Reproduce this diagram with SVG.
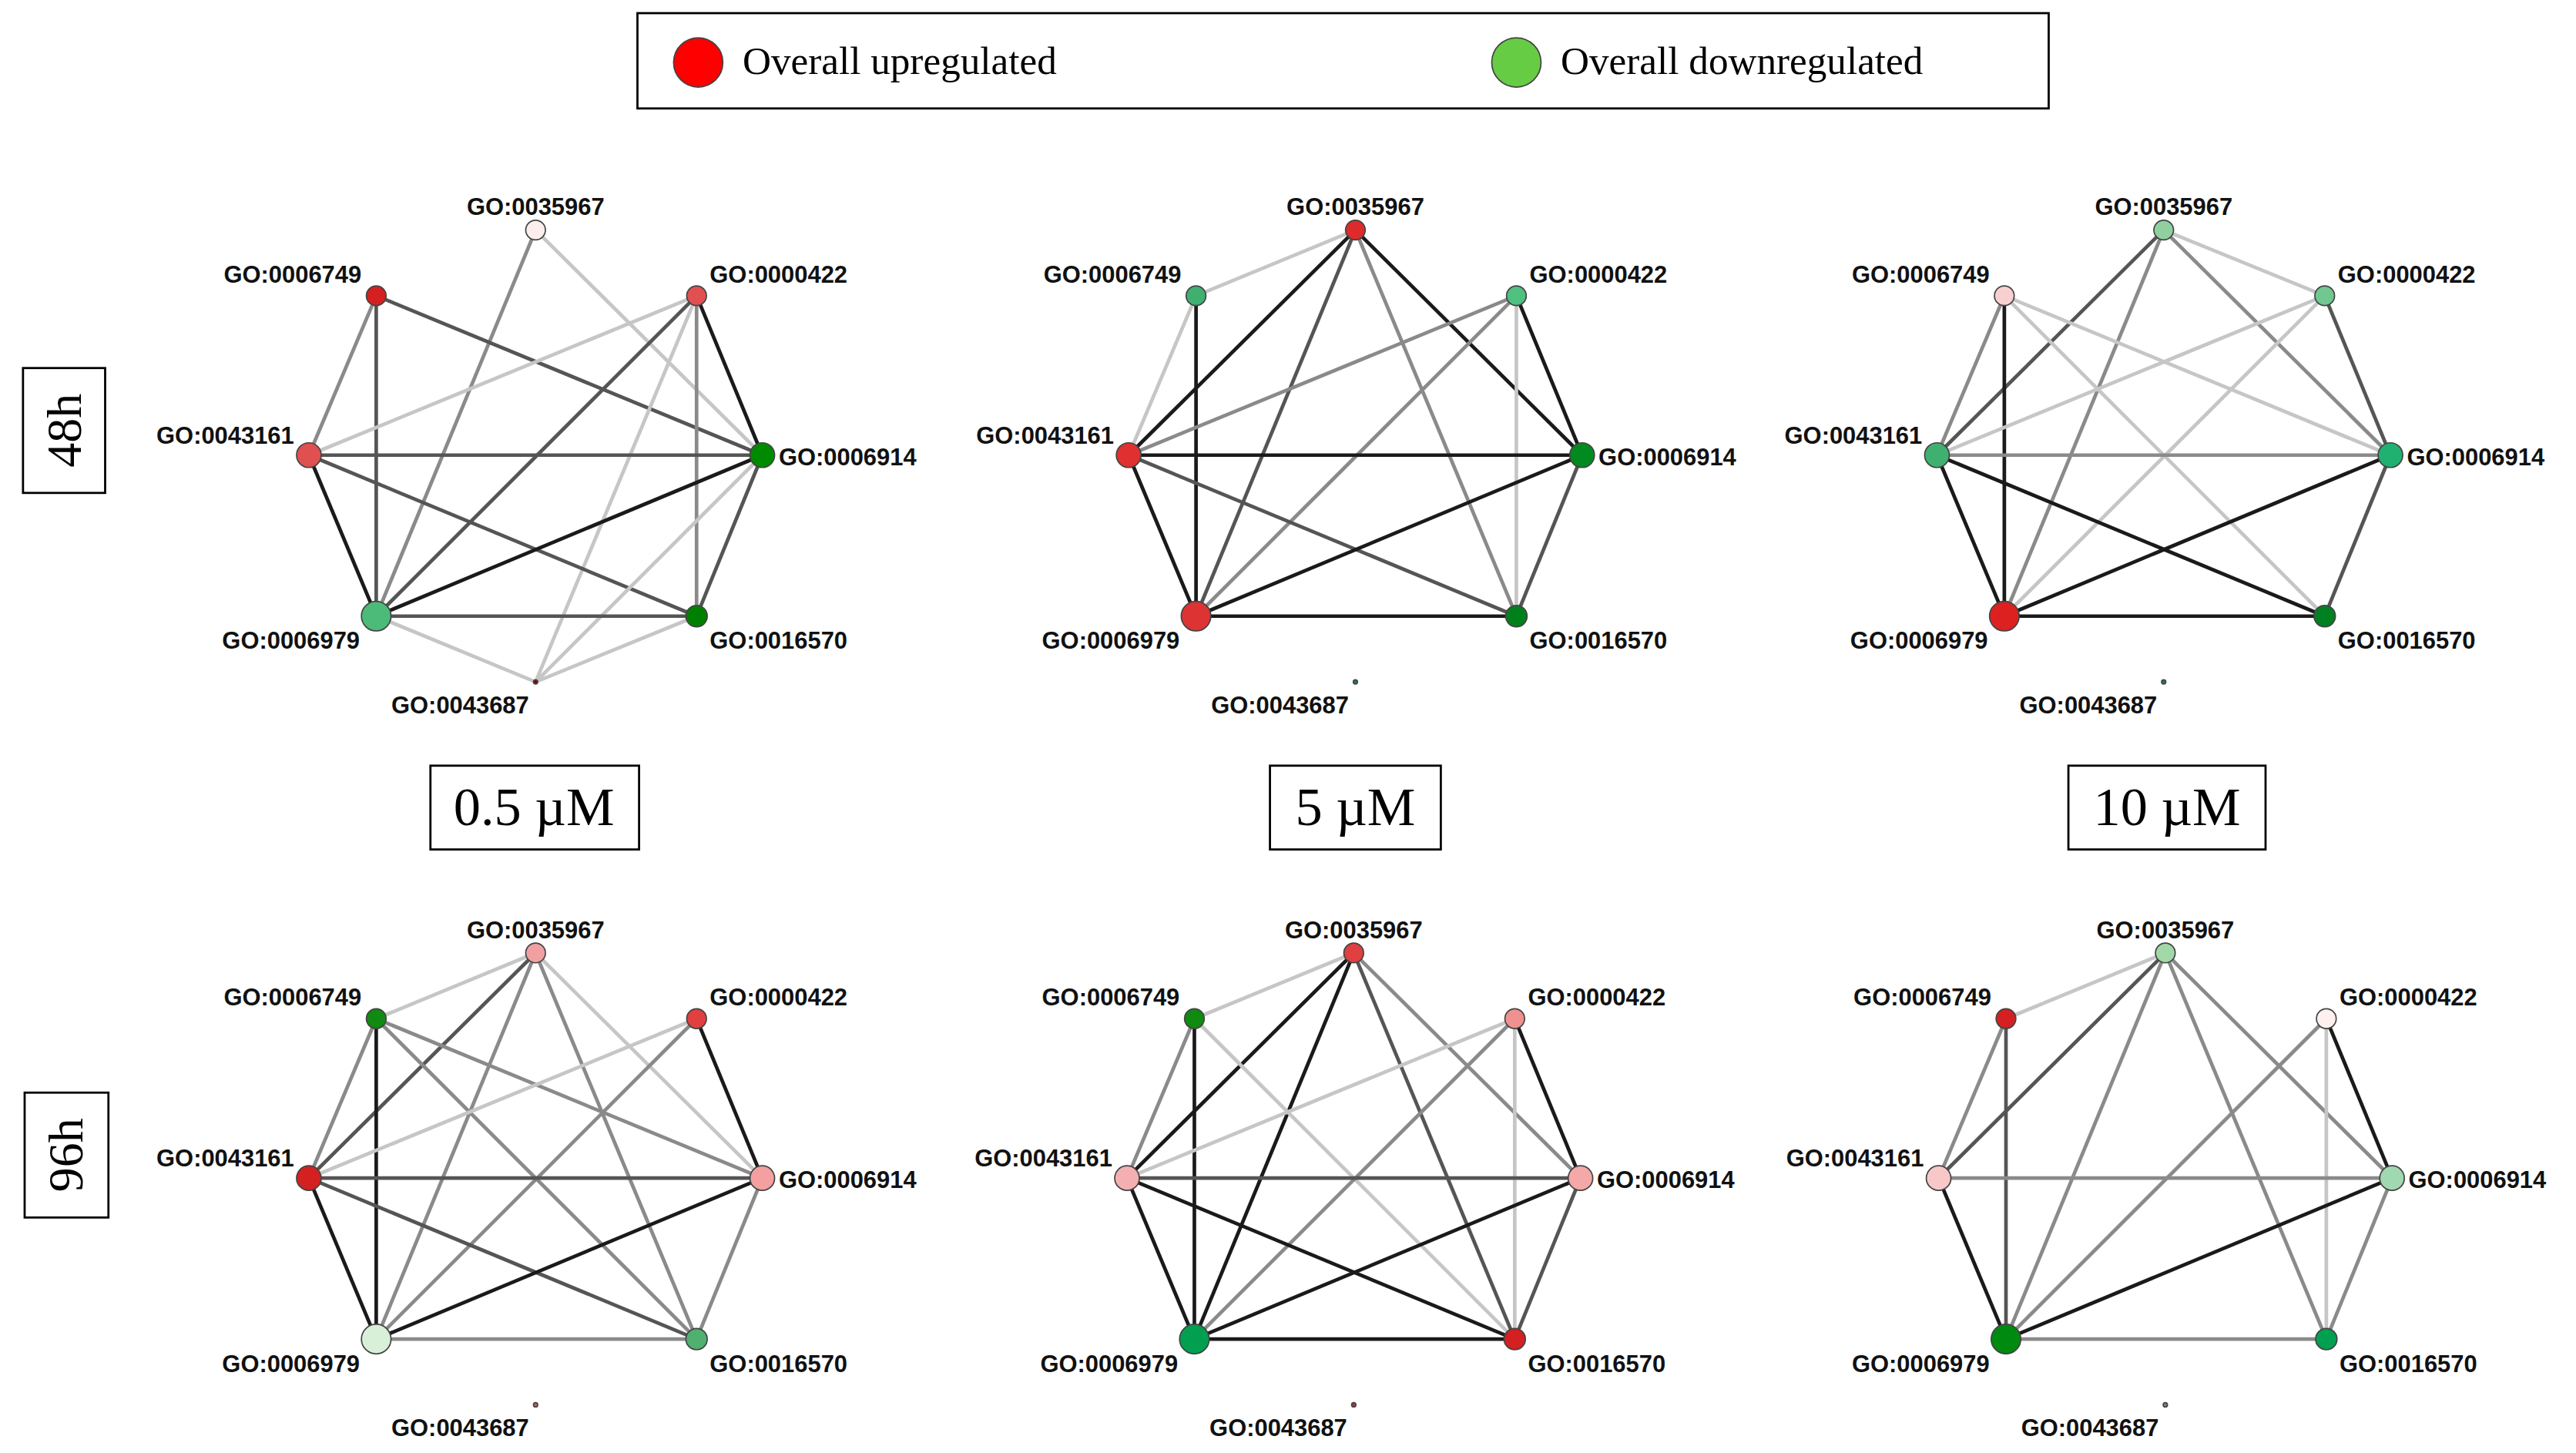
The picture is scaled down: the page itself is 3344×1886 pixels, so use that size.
<svg xmlns="http://www.w3.org/2000/svg" width="3344" height="1886" viewBox="0 0 3344 1886">
<style>
.k{stroke:#1a1a1a}.d{stroke:#555}.g{stroke:#8a8a8a}.l{stroke:#c6c6c6}
line{stroke-width:2.2;fill:none}
circle{stroke:#444;stroke-width:0.8}
.lb{font-family:"Liberation Sans",Arial,sans-serif;font-weight:bold;font-size:14.5px;fill:#111}
.sf{font-family:"Liberation Serif","Times New Roman",serif;fill:#000}
.bx{fill:#fff;stroke:#000;stroke-width:1.3}
</style>
<defs>
<g id="labels">
<text class="lb" x="326" y="131" text-anchor="middle">GO:0035967</text>
<text class="lb" x="220" y="172" text-anchor="end">GO:0006749</text>
<text class="lb" x="432" y="172">GO:0000422</text>
<text class="lb" x="179" y="270" text-anchor="end">GO:0043161</text>
<text class="lb" x="474" y="283">GO:0006914</text>
<text class="lb" x="219" y="395" text-anchor="end">GO:0006979</text>
<text class="lb" x="432" y="395">GO:0016570</text>
<text class="lb" x="322" y="434" text-anchor="end">GO:0043687</text>
</g>
</defs>
<rect width="3344" height="1886" fill="#fff"/>
<g transform="scale(2.1327)">
<g id="legend">
<rect class="bx" x="388" y="8" width="859" height="58"/>
<circle cx="425" cy="38" r="15" fill="#ff0000" stroke="#333"/>
<text class="sf" x="452" y="45" font-size="24">Overall upregulated</text>
<circle cx="923" cy="38" r="15" fill="#66cc44" stroke="#333"/>
<text class="sf" x="950" y="45" font-size="24">Overall downregulated</text>
</g>
<g id="time48"><rect class="bx" x="14" y="224" width="50" height="76"/><text class="sf" font-size="30" text-anchor="middle" transform="translate(49,262) rotate(-90)">48h</text></g>
<g id="time96"><rect class="bx" x="15" y="665" width="51" height="76"/><text class="sf" font-size="30" text-anchor="middle" transform="translate(50,703) rotate(-90)">96h</text></g>
<g id="conc05"><rect class="bx" x="262" y="466" width="127" height="51"/><text class="sf" x="325" y="502" font-size="33" text-anchor="middle">0.5 µM</text></g>
<g id="conc5"><rect class="bx" x="773" y="466" width="104" height="51"/><text class="sf" x="825" y="502" font-size="33" text-anchor="middle">5 µM</text></g>
<g id="conc10"><rect class="bx" x="1259" y="466" width="120" height="51"/><text class="sf" x="1319" y="502" font-size="33" text-anchor="middle">10 µM</text></g>

<!-- Panel 1 -->
<g id="p48_05">
<g id="p48_05_edges">
<line class="g" x1="326" y1="140" x2="229" y2="375"/><line class="l" x1="326" y1="140" x2="464" y2="277"/>
<line class="g" x1="229" y1="180" x2="188" y2="277"/><line class="d" x1="229" y1="180" x2="229" y2="375"/><line class="d" x1="229" y1="180" x2="464" y2="277"/>
<line class="l" x1="424" y1="180" x2="188" y2="277"/><line class="k" x1="424" y1="180" x2="464" y2="277"/><line class="d" x1="424" y1="180" x2="229" y2="375"/><line class="g" x1="424" y1="180" x2="424" y2="375"/><line class="l" x1="424" y1="180" x2="326" y2="415"/>
<line class="d" x1="188" y1="277" x2="464" y2="277"/><line class="k" x1="188" y1="277" x2="229" y2="375"/><line class="d" x1="188" y1="277" x2="424" y2="375"/>
<line class="k" x1="464" y1="277" x2="229" y2="375"/><line class="d" x1="464" y1="277" x2="424" y2="375"/><line class="l" x1="464" y1="277" x2="326" y2="415"/>
<line class="d" x1="229" y1="375" x2="424" y2="375"/><line class="l" x1="229" y1="375" x2="326" y2="415"/><line class="l" x1="424" y1="375" x2="326" y2="415"/>
</g>
<circle cx="326" cy="140" r="6" fill="#fdeeee"/><circle cx="229" cy="180" r="6" fill="#d42020"/><circle cx="424" cy="180" r="6" fill="#e05050"/>
<circle cx="188" cy="277" r="7.5" fill="#e05050"/><circle cx="464" cy="277" r="7.5" fill="#008a00"/><circle cx="229" cy="375" r="9" fill="#4cbb7a"/>
<circle cx="424" cy="375" r="6.5" fill="#008000"/><circle cx="326" cy="415" r="1.3" fill="#800000" stroke="none"/>
<use href="#labels"/>
</g>

<!-- Panel 2 -->
<g id="p48_5" transform="translate(499,0)">
<g id="p48_5_edges">
<line class="l" x1="326" y1="140" x2="229" y2="180"/><line class="k" x1="326" y1="140" x2="188" y2="277"/><line class="d" x1="326" y1="140" x2="229" y2="375"/><line class="k" x1="326" y1="140" x2="464" y2="277"/><line class="g" x1="326" y1="140" x2="424" y2="375"/>
<line class="l" x1="229" y1="180" x2="188" y2="277"/><line class="k" x1="229" y1="180" x2="229" y2="375"/>
<line class="g" x1="424" y1="180" x2="188" y2="277"/><line class="k" x1="424" y1="180" x2="464" y2="277"/><line class="g" x1="424" y1="180" x2="229" y2="375"/><line class="l" x1="424" y1="180" x2="424" y2="375"/>
<line class="k" x1="188" y1="277" x2="464" y2="277"/><line class="k" x1="188" y1="277" x2="229" y2="375"/><line class="d" x1="188" y1="277" x2="424" y2="375"/>
<line class="k" x1="464" y1="277" x2="229" y2="375"/><line class="d" x1="464" y1="277" x2="424" y2="375"/>
<line class="k" x1="229" y1="375" x2="424" y2="375"/>
</g>
<circle cx="326" cy="140" r="6" fill="#dd2a2a"/><circle cx="229" cy="180" r="6" fill="#40b070"/><circle cx="424" cy="180" r="6" fill="#50c080"/>
<circle cx="188" cy="277" r="7.5" fill="#e03030"/><circle cx="464" cy="277" r="7.5" fill="#008a20"/><circle cx="229" cy="375" r="9" fill="#dd3333"/>
<circle cx="424" cy="375" r="6.5" fill="#00801a"/><circle cx="326" cy="415" r="1.3" fill="#208040" stroke="none"/>
<use href="#labels"/>
</g>

<!-- Panel 3 -->
<g id="p48_10" transform="translate(991,0)">
<g id="p48_10_edges">
<line class="l" x1="326" y1="140" x2="424" y2="180"/><line class="d" x1="326" y1="140" x2="188" y2="277"/><line class="g" x1="326" y1="140" x2="229" y2="375"/><line class="g" x1="326" y1="140" x2="464" y2="277"/>
<line class="g" x1="229" y1="180" x2="188" y2="277"/><line class="k" x1="229" y1="180" x2="229" y2="375"/><line class="l" x1="229" y1="180" x2="464" y2="277"/><line class="l" x1="229" y1="180" x2="424" y2="375"/>
<line class="l" x1="424" y1="180" x2="188" y2="277"/><line class="d" x1="424" y1="180" x2="464" y2="277"/><line class="l" x1="424" y1="180" x2="229" y2="375"/>
<line class="g" x1="188" y1="277" x2="464" y2="277"/><line class="k" x1="188" y1="277" x2="229" y2="375"/><line class="k" x1="188" y1="277" x2="424" y2="375"/>
<line class="k" x1="464" y1="277" x2="229" y2="375"/><line class="d" x1="464" y1="277" x2="424" y2="375"/>
<line class="k" x1="229" y1="375" x2="424" y2="375"/>
</g>
<circle cx="326" cy="140" r="6" fill="#90d0a0"/><circle cx="229" cy="180" r="6" fill="#f8d0d0"/><circle cx="424" cy="180" r="6" fill="#70c890"/>
<circle cx="188" cy="277" r="7.5" fill="#40b070"/><circle cx="464" cy="277" r="7.5" fill="#20b070"/><circle cx="229" cy="375" r="9" fill="#dd2020"/>
<circle cx="424" cy="375" r="6.5" fill="#008020"/><circle cx="326" cy="415" r="1.3" fill="#208040" stroke="none"/>
<use href="#labels"/>
</g>

<!-- Panel 4 -->
<g id="p96_05" transform="translate(0,440)">
<g id="p96_05_edges">
<line class="l" x1="326" y1="140" x2="229" y2="180"/><line class="d" x1="326" y1="140" x2="188" y2="277"/><line class="g" x1="326" y1="140" x2="229" y2="375"/><line class="l" x1="326" y1="140" x2="464" y2="277"/><line class="g" x1="326" y1="140" x2="424" y2="375"/>
<line class="g" x1="229" y1="180" x2="188" y2="277"/><line class="k" x1="229" y1="180" x2="229" y2="375"/><line class="g" x1="229" y1="180" x2="464" y2="277"/><line class="g" x1="229" y1="180" x2="424" y2="375"/>
<line class="l" x1="424" y1="180" x2="188" y2="277"/><line class="k" x1="424" y1="180" x2="464" y2="277"/><line class="g" x1="424" y1="180" x2="229" y2="375"/>
<line class="d" x1="188" y1="277" x2="464" y2="277"/><line class="k" x1="188" y1="277" x2="229" y2="375"/><line class="d" x1="188" y1="277" x2="424" y2="375"/>
<line class="k" x1="464" y1="277" x2="229" y2="375"/><line class="g" x1="464" y1="277" x2="424" y2="375"/>
<line class="g" x1="229" y1="375" x2="424" y2="375"/>
</g>
<circle cx="326" cy="140" r="6" fill="#f0a0a0"/><circle cx="229" cy="180" r="6" fill="#108a10"/><circle cx="424" cy="180" r="6" fill="#e04040"/>
<circle cx="188" cy="277" r="7.5" fill="#d42020"/><circle cx="464" cy="277" r="7.5" fill="#f4a0a0"/><circle cx="229" cy="375" r="9" fill="#d8f0d8"/>
<circle cx="424" cy="375" r="6.5" fill="#50b070"/><circle cx="326" cy="415" r="1.3" fill="#c06060" stroke="none"/>
<use href="#labels"/>
</g>

<!-- Panel 5 -->
<g id="p96_5" transform="translate(498,440)">
<g id="p96_5_edges">
<line class="l" x1="326" y1="140" x2="229" y2="180"/><line class="k" x1="326" y1="140" x2="188" y2="277"/><line class="k" x1="326" y1="140" x2="229" y2="375"/><line class="g" x1="326" y1="140" x2="464" y2="277"/><line class="d" x1="326" y1="140" x2="424" y2="375"/>
<line class="g" x1="229" y1="180" x2="188" y2="277"/><line class="k" x1="229" y1="180" x2="229" y2="375"/><line class="l" x1="229" y1="180" x2="424" y2="375"/>
<line class="l" x1="424" y1="180" x2="188" y2="277"/><line class="k" x1="424" y1="180" x2="464" y2="277"/><line class="g" x1="424" y1="180" x2="229" y2="375"/><line class="l" x1="424" y1="180" x2="424" y2="375"/>
<line class="d" x1="188" y1="277" x2="464" y2="277"/><line class="k" x1="188" y1="277" x2="229" y2="375"/><line class="k" x1="188" y1="277" x2="424" y2="375"/>
<line class="k" x1="464" y1="277" x2="229" y2="375"/><line class="d" x1="464" y1="277" x2="424" y2="375"/>
<line class="k" x1="229" y1="375" x2="424" y2="375"/>
</g>
<circle cx="326" cy="140" r="6" fill="#e04040"/><circle cx="229" cy="180" r="6" fill="#108a10"/><circle cx="424" cy="180" r="6" fill="#f09090"/>
<circle cx="188" cy="277" r="7.5" fill="#f4b0b0"/><circle cx="464" cy="277" r="7.5" fill="#f4a8a8"/><circle cx="229" cy="375" r="9" fill="#00a050"/>
<circle cx="424" cy="375" r="6.5" fill="#d42020"/><circle cx="326" cy="415" r="1.3" fill="#c03030" stroke="none"/>
<use href="#labels"/>
</g>

<!-- Panel 6 -->
<g id="p96_10" transform="translate(992,440)">
<g id="p96_10_edges">
<line class="l" x1="326" y1="140" x2="229" y2="180"/><line class="d" x1="326" y1="140" x2="188" y2="277"/><line class="g" x1="326" y1="140" x2="229" y2="375"/><line class="g" x1="326" y1="140" x2="464" y2="277"/><line class="g" x1="326" y1="140" x2="424" y2="375"/>
<line class="g" x1="229" y1="180" x2="188" y2="277"/><line class="d" x1="229" y1="180" x2="229" y2="375"/>
<line class="k" x1="424" y1="180" x2="464" y2="277"/><line class="g" x1="424" y1="180" x2="229" y2="375"/><line class="l" x1="424" y1="180" x2="424" y2="375"/>
<line class="g" x1="188" y1="277" x2="464" y2="277"/><line class="k" x1="188" y1="277" x2="229" y2="375"/>
<line class="k" x1="464" y1="277" x2="229" y2="375"/><line class="g" x1="464" y1="277" x2="424" y2="375"/>
<line class="g" x1="229" y1="375" x2="424" y2="375"/>
</g>
<circle cx="326" cy="140" r="6" fill="#a0d8a8"/><circle cx="229" cy="180" r="6" fill="#d42020"/><circle cx="424" cy="180" r="6" fill="#fff0f0"/>
<circle cx="188" cy="277" r="7.5" fill="#f8c8c8"/><circle cx="464" cy="277" r="7.5" fill="#a0d8b0"/><circle cx="229" cy="375" r="9" fill="#008a10"/>
<circle cx="424" cy="375" r="6.5" fill="#00a050"/><circle cx="326" cy="415" r="1.3" fill="#808080" stroke="none"/>
<use href="#labels"/>
</g>
</g>
</svg>
